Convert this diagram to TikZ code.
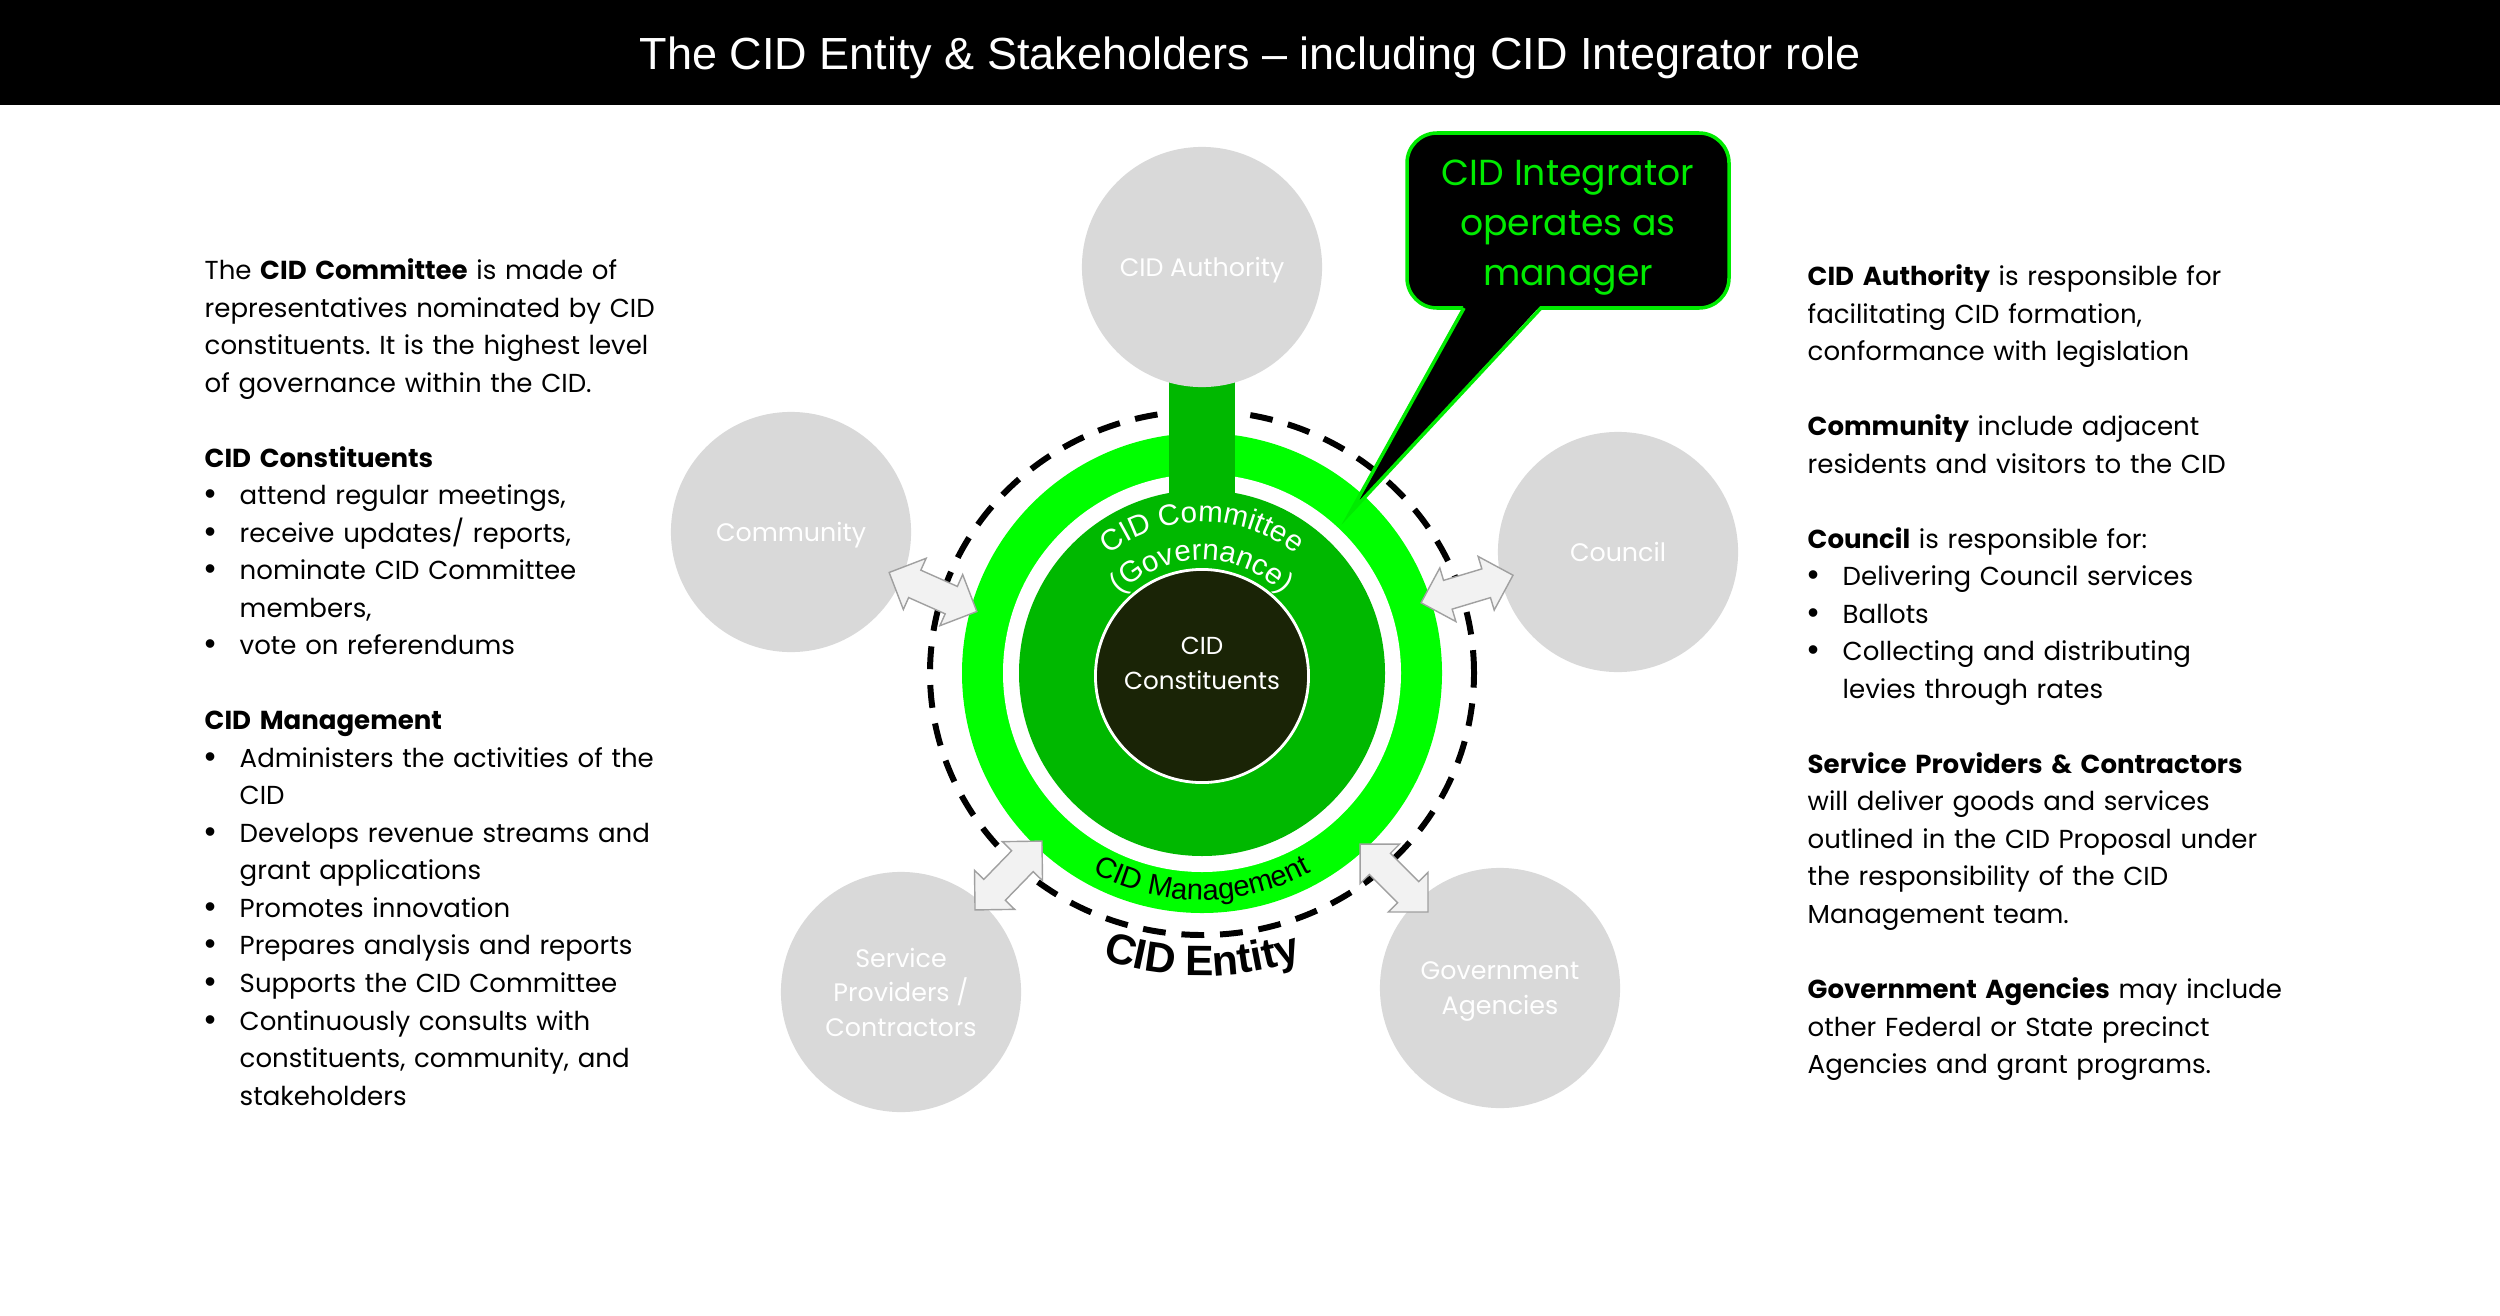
\documentclass[tikz,border=0pt]{standalone}
\usepackage{fontspec}
\setmainfont{Poppins}
\newfontfamily\arialf{Liberation Sans}
\usetikzlibrary{calc,decorations.text}
\definecolor{cidlime}{RGB}{0,255,0}
\definecolor{ciddark}{RGB}{0,184,0}
\definecolor{cidcore}{RGB}{26,36,6}
\definecolor{stakegray}{RGB}{217,217,217}
\definecolor{arrowfill}{RGB}{242,242,242}
\definecolor{arrowdraw}{RGB}{160,160,160}
\definecolor{callgreen}{RGB}{0,235,0}
\frenchspacing
\newcommand\bul{\makebox[0.35cm][l]{\arialf\fontsize{9}{9}\selectfont•}}
\newcommand\cont{\hspace*{0.35cm}}
\newcommand\cidarrow[3]{\begin{scope}[shift={(#1)},rotate=#2]
 \draw[dblarrow] (-48,0) -- (-20,28) -- (-20,15) -- (20,15) -- (20,28) -- (48,0) -- (20,-28) -- (20,-15) -- (-20,-15) -- (-20,-28) -- cycle;
 \coordinate (#3) at (0,0);
\end{scope}}
\tikzset{
 dblarrow/.style={fill=arrowfill,draw=arrowdraw,line width=0.4pt,line join=miter},
 stake/.style={circle,fill=stakegray,minimum size=2.4cm,inner sep=0pt,text=white,align=center,text depth=0pt,font=\fontsize{7.2}{9.8}\selectfont},
 bodytext/.style={anchor=north west,inner sep=0pt,align=left,text width=7cm,font=\fontsize{7.4}{10.67}\selectfont},
}
\begin{document}
\begin{tikzpicture}[x=0.01cm,y=0.01cm]
\useasboundingbox (0,0) rectangle (2500,-1315);
\fill[white] (0,0) rectangle (2500,-1315);
\fill[black] (0,0) rectangle (2500,-105);
\node[font=\arialf\fontsize{12.8}{15}\selectfont,text=white] (title) at (1250,-58) {The CID Entity \& Stakeholders – including CID Integrator role};

% rings
\coordinate (ctr) at (1202,-673);
\draw[black,line width=1.7pt,dash pattern=on 6.5pt off 4.5pt] (ctr) ellipse [x radius=272,y radius=262];
\fill[cidlime] (ctr) circle[radius=240];
\fill[white] (ctr) circle[radius=199];
\fill[ciddark] (ctr) circle[radius=183];
\fill[ciddark] (1169,-370) rectangle (1235,-500);
\node[circle,fill=cidcore,draw=white,line width=0.8pt,minimum size=2.13cm,inner sep=0pt] (core) at (1202,-676) {};
\node[text=white,align=center,font=\fontsize{7}{9.96}\selectfont] (corelabel) at (1202,-663) {CID\\Constituents};

% stakeholders
\node[stake] (auth) at (1202,-267) {CID Authority};
\node[stake] (comm) at (791,-532) {Community};
\node[stake] (coun) at (1618,-552) {Council};
\node[stake] (serv) at (901,-992) {Service\\Providers /\\Contractors};
\node[stake] (gov) at (1500,-988) {Government\\Agencies};

% arrows
\cidarrow{933,-592}{-24}{a1}
\cidarrow{1467,-589}{16.7}{a2}
\cidarrow{1008.5,-875.5}{45.8}{a3}
\cidarrow{1394,-878}{-45}{a4}

% curved labels
\path[decorate,decoration={text along path,text align=center,text={|\arialf\fontsize{8.4}{10}\selectfont\color{white}|CID Committee}}]
 ($(ctr)+(165:151)$) arc[start angle=165,end angle=15,radius=151];
\path[decorate,decoration={text along path,text align=center,text={|\arialf\fontsize{8.4}{10}\selectfont\color{white}|(Governance)}}]
 ($(ctr)+(170:113)$) arc[start angle=170,end angle=10,radius=113];
\path[decorate,decoration={text along path,text align=center,text={|\arialf\fontsize{8.3}{10}\selectfont\color{black}|CID Management}}]
 ($(ctr)+(200:227)$) arc[start angle=200,end angle=340,radius=227];
\path[decorate,decoration={text along path,text align=center,text={|\arialf\bfseries\fontsize{12.1}{14}\selectfont\color{black}|CID Entity}}]
 ($(ctr)+(230:303)$) arc[start angle=230,end angle=310,radius=303];

% callout
\draw[callgreen,fill=black,line width=1pt,rounded corners=0.3cm] (1407,-133) rectangle (1729,-308);
\fill[black] (1464,-305) -- (1350,-513) -- (1541,-305) -- cycle;
\draw[callgreen,line width=1pt] (1464,-308) -- (1350,-513) -- (1541,-308);
\node[text=callgreen,align=center,font=\fontsize{10.3}{14.2}\selectfont] (integ) at (1568,-228) {CID Integrator\\operates as\\manager};

% left text
\node[bodytext] (lefttext) at (204,-258) {The \textbf{CID Committee} is made of\\
representatives nominated by CID\\
constituents. It is the highest level\\
of governance within the CID.\\[10.67pt]
\textbf{CID Constituents}\\
\bul attend regular meetings,\\
\bul receive updates/ reports,\\
\bul nominate CID Committee\\
\cont members,\\
\bul vote on referendums\\[10.67pt]
\textbf{CID Management}\\
\bul Administers the activities of the\\
\cont CID\\
\bul Develops revenue streams and\\
\cont grant applications\\
\bul Promotes innovation\\
\bul Prepares analysis and reports\\
\bul Supports the CID Committee\\
\bul Continuously consults with\\
\cont constituents, community, and\\
\cont stakeholders};

% right text
\node[bodytext] (righttext) at (1807,-264) {\textbf{CID Authority} is responsible for\\
facilitating CID formation,\\
conformance with legislation\\[10.67pt]
\textbf{Community} include adjacent\\
residents and visitors to the CID\\[10.67pt]
\textbf{Council} is responsible for:\\
\bul Delivering Council services\\
\bul Ballots\\
\bul Collecting and distributing\\
\cont levies through rates\\[10.67pt]
\textbf{Service Providers \& Contractors}\\
will deliver goods and services\\
outlined in the CID Proposal under\\
the responsibility of the CID\\
Management team.\\[10.67pt]
\textbf{Government Agencies} may include\\
other Federal or State precinct\\
Agencies and grant programs.};
\end{tikzpicture}
\end{document}
